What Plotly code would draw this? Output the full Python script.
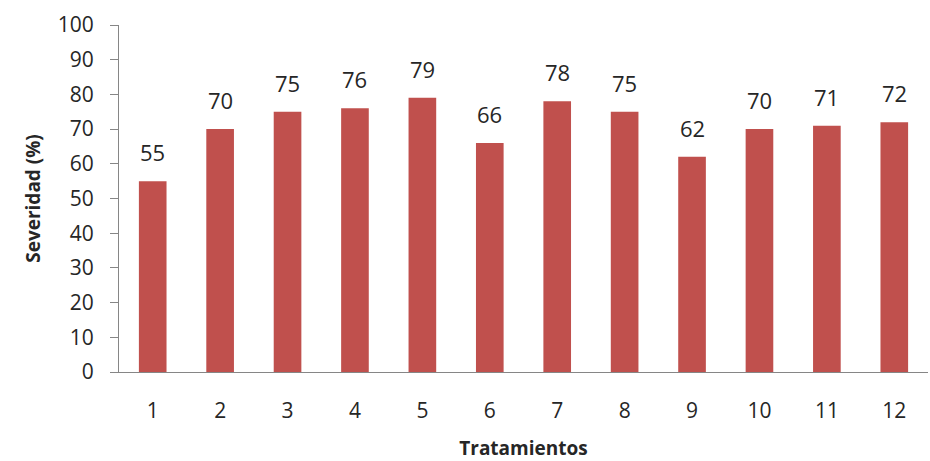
import plotly.graph_objects as go

tratamientos = ["1", "2", "3", "4", "5", "6", "7", "8", "9", "10", "11", "12"]
severidad = [55, 70, 75, 76, 79, 66, 78, 75, 62, 70, 71, 72]
y_ticks = list(range(0, 101, 10))

font_family = "Open Sans, Noto Sans, sans-serif"
text_color = "#262626"
axis_color = "#868686"

fig = go.Figure(
    go.Bar(
        x=tratamientos,
        y=severidad,
        marker=dict(color="#C0504D", line=dict(width=0)),
        width=0.41,
        hoverinfo="x+y",
    )
)

# value labels above each bar (category axis positions are indices)
for idx, val in enumerate(severidad):
    fig.add_annotation(
        x=idx,
        y=val,
        text=str(val),
        showarrow=False,
        yanchor="bottom",
        yshift=12,
        font=dict(family=font_family, size=22, color=text_color),
    )

fig.update_layout(
    width=930,
    height=461,
    margin=dict(l=119, r=2, t=25, b=89),
    paper_bgcolor="white",
    plot_bgcolor="white",
    showlegend=False,
)

fig.update_xaxes(
    type="category",
    showline=True,
    linecolor=axis_color,
    linewidth=1,
    showgrid=False,
    ticks="",
    ticklabelstandoff=20,
    tickfont=dict(family=font_family, size=21, color=text_color),
    title=dict(
        text="<b>Tratamientos</b>",
        font=dict(family=font_family, size=19, color=text_color),
        standoff=18,
    ),
)

fig.update_yaxes(
    range=[0, 100],
    tickvals=y_ticks,
    showline=True,
    linecolor=axis_color,
    linewidth=1,
    showgrid=False,
    zeroline=False,
    ticks="outside",
    ticklen=8,
    tickcolor=axis_color,
    ticklabelstandoff=12,
    tickfont=dict(family=font_family, size=21, color=text_color),
    title=dict(
        text="<b>Severidad (%)</b>",
        font=dict(family=font_family, size=19, color=text_color),
        standoff=12,
    ),
)

fig.write_html("out.html")
